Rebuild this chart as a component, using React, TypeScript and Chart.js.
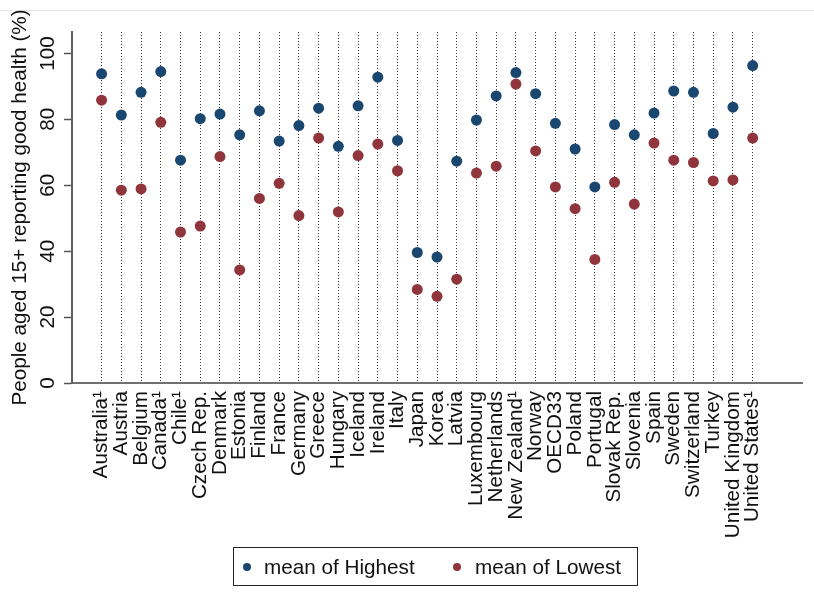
import React, { useEffect, useRef } from "react";
import { Chart, registerables } from "chart.js";

Chart.register(...registerables);

const countries = [
  "Australia¹", "Austria", "Belgium", "Canada¹", "Chile¹", "Czech Rep.", "Denmark", "Estonia",
  "Finland", "France", "Germany", "Greece", "Hungary", "Iceland", "Ireland", "Italy",
  "Japan", "Korea", "Latvia", "Luxembourg", "Netherlands", "New Zealand¹", "Norway", "OECD33",
  "Poland", "Portugal", "Slovak Rep.", "Slovenia", "Spain", "Sweden", "Switzerland", "Turkey",
  "United Kingdom", "United States¹",
];

const highest = [
  93.8, 81.3, 88.2, 94.5, 67.6, 80.2, 81.6, 75.3,
  82.6, 73.4, 78.1, 83.4, 71.8, 84.1, 92.8, 73.6,
  39.6, 38.2, 67.3, 79.8, 87.1, 94.2, 87.8, 78.8,
  71.0, 59.5, 78.4, 75.3, 81.9, 88.6, 88.2, 75.7,
  83.7, 96.3,
];

const lowest = [
  85.8, 58.5, 58.9, 79.1, 45.8, 47.6, 68.7, 34.3,
  56.0, 60.6, 50.8, 74.3, 51.9, 69.0, 72.5, 64.4,
  28.4, 26.3, 31.5, 63.7, 65.8, 90.7, 70.4, 59.5,
  52.9, 37.5, 60.9, 54.3, 72.8, 67.6, 66.9, 61.3,
  61.6, 74.3,
];

const yTicks = [0, 20, 40, 60, 80, 100];
const seriesNames = ["mean of Highest", "mean of Lowest"];
const BLUE = "#1a476f";
const RED = "#90353b";
const FONT = "'Liberation Sans', Arial, sans-serif";
const FS = 20.7;

export default function App() {
  const ref = useRef<HTMLCanvasElement | null>(null);

  useEffect(() => {
    if (!ref.current) return;
    const chart = new Chart(ref.current, {
      type: "scatter",
      data: {
        datasets: [
          {
            label: seriesNames[0],
            data: highest.map((v, i) => ({ x: i, y: v })),
            backgroundColor: BLUE,
            borderColor: BLUE,
            pointRadius: 5.5,
            pointBorderWidth: 0,
          },
          {
            label: seriesNames[1],
            data: lowest.map((v, i) => ({ x: i, y: v })),
            backgroundColor: RED,
            borderColor: RED,
            pointRadius: 5.5,
            pointBorderWidth: 0,
          },
        ],
      },
      options: {
        animation: false,
        responsive: false,
        maintainAspectRatio: false,
        layout: { padding: { top: 32, right: 12, left: 0, bottom: 0 } },
        plugins: {
          legend: { display: false },
          tooltip: { enabled: false },
        },
        scales: {
          x: {
            type: "linear",
            min: -1.5,
            max: 35.5,
            afterBuildTicks: (scale: any) => {
              scale.ticks = countries.map((_, i) => ({ value: i }));
            },
            afterFit: (scale: any) => {
              scale.height = 229;
            },
            ticks: {
              autoSkip: false,
              minRotation: 90,
              maxRotation: 90,
              padding: 8,
              color: "#111",
              font: { family: FONT, size: FS },
              callback: (v: any) => countries[v as number] ?? "",
            },
            grid: {
              display: true,
              drawOnChartArea: true,
              drawTicks: false,
              color: "#333",
              lineWidth: 1,
            },
            border: { display: true, color: "#707070", width: 2, dash: [1, 2] },
          },
          y: {
            min: 0,
            max: 106.5,
            afterBuildTicks: (scale: any) => {
              scale.ticks = yTicks.map((v) => ({ value: v }));
            },
            afterFit: (scale: any) => {
              scale.width = 72;
            },
            ticks: {
              minRotation: 90,
              maxRotation: 90,
              crossAlign: "center",
              padding: -2,
              color: "#111",
              font: { family: FONT, size: FS },
            },
            grid: {
              display: true,
              drawOnChartArea: false,
              drawTicks: true,
              tickLength: 8,
              tickColor: "#555",
              tickWidth: 1.5,
            },
            border: { display: true, color: "#606060", width: 2 },
            title: {
              display: true,
              text: "People aged 15+ reporting good health (%)",
              color: "#111",
              font: { family: FONT, size: FS },
              padding: { top: 8, bottom: 0 },
            },
          },
        },
      },
    });
    return () => chart.destroy();
  }, []);

  const legendItem = (color: string, text: string, left: number, textLeft: number) => (
    <>
      <div
        style={{
          position: "absolute",
          left: left - 4,
          top: 563,
          width: 8,
          height: 8,
          borderRadius: "50%",
          background: color,
        }}
      />
      <div
        style={{
          position: "absolute",
          left: textLeft,
          top: 554,
          fontFamily: FONT,
          fontSize: FS,
          lineHeight: "26px",
          color: "#111",
          whiteSpace: "nowrap",
        }}
      >
        {text}
      </div>
    </>
  );

  return (
    <div
      style={{
        position: "fixed",
        left: 0,
        top: 0,
        width: 814,
        height: 612,
        background: "#fff",
        overflow: "hidden",
      }}
    >
      <div style={{ position: "absolute", left: 0, top: 10, width: 814, height: 1, background: "#e8e8e8" }} />
      <canvas ref={ref} width={814} height={612} style={{ position: "absolute", left: 0, top: 0 }} />
      <div
        style={{
          position: "absolute",
          left: 233,
          top: 547,
          width: 405,
          height: 39,
          border: "1px solid #222",
          boxSizing: "border-box",
        }}
      />
      {legendItem(BLUE, seriesNames[0], 247, 264)}
      {legendItem(RED, seriesNames[1], 457, 475)}
    </div>
  );
}
